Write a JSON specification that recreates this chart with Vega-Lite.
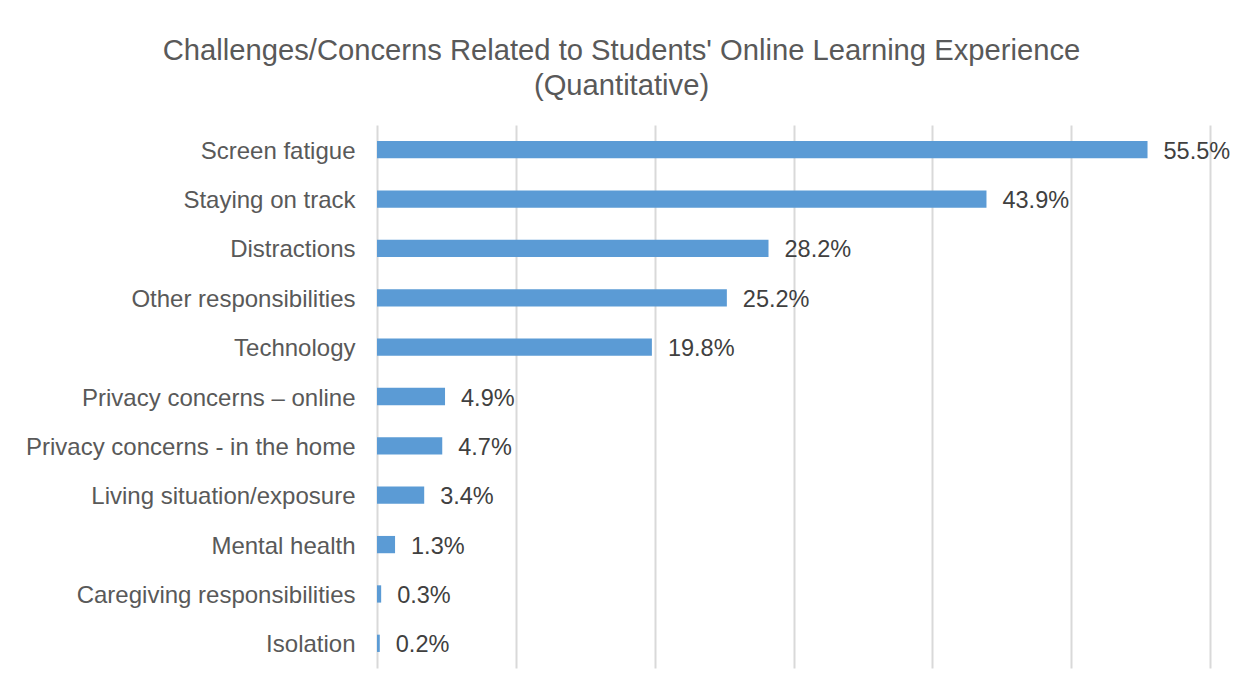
{
  "$schema": "https://vega.github.io/schema/vega-lite/v6.json",
  "width": 833,
  "height": 543,
  "autosize": {"type": "none"},
  "padding": {"left": 377, "top": 125, "right": 26, "bottom": 25},
  "background": "white",
  "title": {
    "text": ["Challenges/Concerns Related to Students' Online Learning Experience", "(Quantitative)"],
    "font": "Liberation Sans",
    "fontSize": 29.2,
    "fontWeight": "normal",
    "color": "#595959",
    "anchor": "middle",
    "frame": "group",
    "dx": -172,
    "offset": 24,
    "lineHeight": 35
  },
  "config": {
    "view": {"stroke": null},
    "font": "Liberation Sans"
  },
  "data": {
    "values": [
      {"category": "Screen fatigue", "pct": 55.5, "label": "55.5%"},
      {"category": "Staying on track", "pct": 43.9, "label": "43.9%"},
      {"category": "Distractions", "pct": 28.2, "label": "28.2%"},
      {"category": "Other responsibilities\u2002", "pct": 25.2, "label": "25.2%"},
      {"category": "Technology", "pct": 19.8, "label": "19.8%"},
      {"category": "Privacy concerns – online", "pct": 4.9, "label": "4.9%"},
      {"category": "Privacy concerns - in the home", "pct": 4.7, "label": "4.7%"},
      {"category": "Living situation/exposure", "pct": 3.4, "label": "3.4%"},
      {"category": "Mental health", "pct": 1.3, "label": "1.3%"},
      {"category": "Caregiving responsibilities", "pct": 0.3, "label": "0.3%"},
      {"category": "Isolation", "pct": 0.2, "label": "0.2%"}
    ]
  },
  "encoding": {
    "y": {
      "field": "category",
      "type": "nominal",
      "sort": null,
      "scale": {"paddingInner": 0.65, "paddingOuter": 0.325},
      "axis": {
        "title": null,
        "domain": false,
        "ticks": false,
        "labelPadding": 22,
        "labelFontSize": 24,
        "labelColor": "#595959",
        "labelFont": "Liberation Sans",
        "labelLimit": 400,
        "labelOffset": 2
      }
    },
    "x": {
      "field": "pct",
      "type": "quantitative",
      "scale": {"domain": [0, 60], "nice": false},
      "axis": {
        "title": null,
        "labels": false,
        "ticks": false,
        "domain": false,
        "grid": true,
        "gridColor": "#d9d9d9",
        "gridWidth": 2,
        "values": [0, 10, 20, 30, 40, 50, 60]
      }
    }
  },
  "layer": [
    {"mark": {"type": "bar", "color": "#5B9BD5"}},
    {
      "mark": {"type": "text", "align": "left", "baseline": "middle", "dx": 16, "dy": 2, "fontSize": 23.5, "color": "#404040", "font": "Liberation Sans"},
      "encoding": {"text": {"field": "label"}}
    }
  ]
}
